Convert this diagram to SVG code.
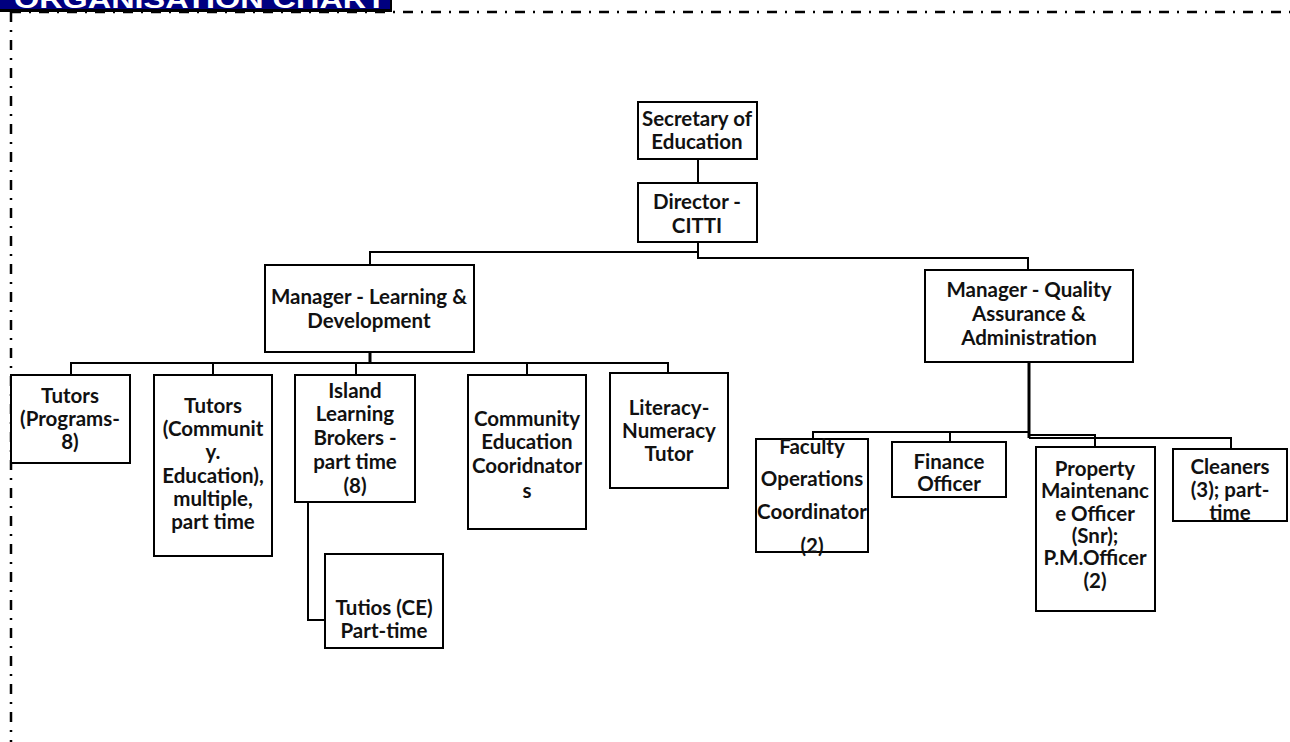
<svg xmlns="http://www.w3.org/2000/svg" width="1290" height="742" viewBox="0 0 1290 742">
  <style>
    .box { fill: #ffffff; stroke: #000000; stroke-width: 2; }
    .lbl { font-family: Lato, "Open Sans", sans-serif; font-weight: 700; font-size: 20.5px; fill: #111111; text-anchor: middle; dominant-baseline: central; }
    .wire { fill: none; stroke: #000000; stroke-width: 2; }
    .frame { fill: none; stroke: #000000; stroke-width: 2.5; stroke-dasharray: 10 8 2 8; }
  </style>

  <rect width="1290" height="742" fill="#ffffff"/>

  <!-- page frame and title banner -->
  <g id="frame">
    <line class="frame" x1="11" y1="12" x2="1290" y2="12"/>
    <line class="frame" x1="11" y1="12" x2="11" y2="742"/>
    <rect x="0" y="0" width="392" height="12" fill="#000000"/>
    <rect x="0" y="0" width="390" height="9" fill="#000080"/>
    <text x="14" y="8" textLength="372" lengthAdjust="spacingAndGlyphs" font-family="Liberation Sans, Arial, sans-serif" font-weight="700" font-size="26" fill="#ffffff">ORGANISATION CHART</text>
  </g>

  <!-- connectors -->
  <g id="connectors">
    <line class="wire" x1="698" y1="159" x2="698" y2="183"/>
    <polyline class="wire" points="698,242 698,258 1028,258 1028,270"/>
    <polyline class="wire" points="698,252 370,252 370,265"/>
    <line class="wire" x1="370" y1="352" x2="370" y2="363" style="stroke-width:3"/>
    <polyline class="wire" points="71,375 71,363 668,363 668,373"/>
    <line class="wire" x1="213" y1="363" x2="213" y2="375"/>
    <line class="wire" x1="356" y1="363" x2="356" y2="375"/>
    <line class="wire" x1="527" y1="363" x2="527" y2="375"/>
    <polyline class="wire" points="308,502 308,620 325,620"/>
    <line class="wire" x1="1029" y1="362" x2="1029" y2="438" style="stroke-width:3"/>
    <polyline class="wire" points="813,439 813,432 1029,432"/>
    <line class="wire" x1="950" y1="432" x2="950" y2="442"/>
    <polyline class="wire" points="1029,435 1095,435 1095,447"/>
    <polyline class="wire" points="1029,438 1231,438 1231,449"/>
  </g>

  <g id="secretary">
    <rect class="box" x="638" y="102" width="119" height="57"/>
    <text class="lbl" x="697" y="118">Secretary of</text>
    <text class="lbl" x="697" y="141">Education</text>
  </g>

  <g id="director">
    <rect class="box" x="638" y="183" width="119" height="59"/>
    <text class="lbl" x="697" y="201">Director -</text>
    <text class="lbl" x="697" y="225">CITTI</text>
  </g>

  <g id="manager-ld">
    <rect class="box" x="265" y="265" width="209" height="87"/>
    <text class="lbl" x="369" y="296">Manager - Learning &amp;</text>
    <text class="lbl" x="369" y="320">Development</text>
  </g>

  <g id="manager-qa">
    <rect class="box" x="925" y="270" width="208" height="92"/>
    <text class="lbl" x="1029" y="289">Manager - Quality</text>
    <text class="lbl" x="1029" y="313">Assurance &amp;</text>
    <text class="lbl" x="1029" y="337">Administration</text>
  </g>

  <g id="tutors-programs">
    <rect class="box" x="11" y="375" width="119" height="88"/>
    <text class="lbl" x="70" y="395">Tutors</text>
    <text class="lbl" x="70" y="418">(Programs-</text>
    <text class="lbl" x="70" y="441">8)</text>
  </g>

  <g id="tutors-community">
    <rect class="box" x="154" y="375" width="118" height="181"/>
    <text class="lbl" x="213" y="405">Tutors</text>
    <text class="lbl" x="213" y="428">(Communit</text>
    <text class="lbl" x="213" y="451">y.</text>
    <text class="lbl" x="213" y="475">Education),</text>
    <text class="lbl" x="213" y="498">multiple,</text>
    <text class="lbl" x="213" y="521">part time</text>
  </g>

  <g id="island-brokers">
    <rect class="box" x="295" y="375" width="120" height="127"/>
    <text class="lbl" x="355" y="390">Island</text>
    <text class="lbl" x="355" y="413">Learning</text>
    <text class="lbl" x="355" y="437">Brokers -</text>
    <text class="lbl" x="355" y="461">part time</text>
    <text class="lbl" x="355" y="485">(8)</text>
  </g>

  <g id="tutios-ce">
    <rect class="box" x="325" y="554" width="118" height="94"/>
    <text class="lbl" x="384" y="607">Tutios (CE)</text>
    <text class="lbl" x="384" y="630">Part-time</text>
  </g>

  <g id="community-coordinators">
    <rect class="box" x="468" y="375" width="118" height="154"/>
    <text class="lbl" x="527" y="418">Community</text>
    <text class="lbl" x="527" y="441">Education</text>
    <text class="lbl" x="527" y="465">Cooridnator</text>
    <text class="lbl" x="527" y="490">s</text>
  </g>

  <g id="literacy-tutor">
    <rect class="box" x="610" y="373" width="118" height="115"/>
    <text class="lbl" x="669" y="407">Literacy-</text>
    <text class="lbl" x="669" y="430">Numeracy</text>
    <text class="lbl" x="669" y="453">Tutor</text>
  </g>

  <g id="faculty-operations">
    <rect class="box" x="756" y="439" width="112" height="113"/>
    <text class="lbl" x="812" y="446">Faculty</text>
    <text class="lbl" x="812" y="478">Operations</text>
    <text class="lbl" x="812" y="511">Coordinator</text>
    <text class="lbl" x="812" y="545">(2)</text>
  </g>

  <g id="finance-officer">
    <rect class="box" x="892" y="442" width="114" height="55"/>
    <text class="lbl" x="949" y="461">Finance</text>
    <text class="lbl" x="949" y="483">Officer</text>
  </g>

  <g id="property-maintenance">
    <rect class="box" x="1036" y="447" width="119" height="164"/>
    <text class="lbl" x="1095" y="468">Property</text>
    <text class="lbl" x="1095" y="490">Maintenanc</text>
    <text class="lbl" x="1095" y="513">e Officer</text>
    <text class="lbl" x="1095" y="535">(Snr);</text>
    <text class="lbl" x="1095" y="557">P.M.Officer</text>
    <text class="lbl" x="1095" y="580">(2)</text>
  </g>

  <g id="cleaners">
    <rect class="box" x="1173" y="449" width="114" height="72"/>
    <text class="lbl" x="1230" y="466">Cleaners</text>
    <text class="lbl" x="1230" y="489">(3); part-</text>
    <text class="lbl" x="1230" y="512">time</text>
  </g>
</svg>
